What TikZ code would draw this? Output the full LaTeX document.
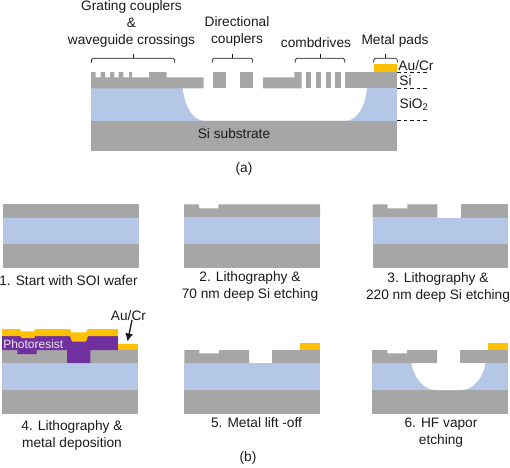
\documentclass[tikz,border=0pt]{standalone}
\usepackage{fontspec}
\setmainfont{Liberation Sans}
\usetikzlibrary{arrows.meta}
\definecolor{sigray}{HTML}{A6A6A6}
\definecolor{oxide}{HTML}{B4C7E7}
\definecolor{gold}{HTML}{FFC000}
\definecolor{resist}{HTML}{7030A0}
\definecolor{ink}{HTML}{1A1A1A}
\tikzset{
  silicon/.style={fill=sigray,draw=none},
  box/.style={fill=oxide,draw=none},
  metal/.style={fill=gold,draw=none},
  pr/.style={fill=resist,draw=none},
  cavity/.style={fill=white,draw=none},
  lab/.style={text=ink,font=\fontsize{13.7}{17}\selectfont,align=center,inner sep=0pt},
  bracket/.style={draw=ink,line width=0.7pt,rounded corners=1.5pt},
  tick/.style={draw=ink,line width=0.7pt},
  level/.style={draw=ink,line width=0.7pt,dash pattern=on 3.5pt off 3pt},
}
\begin{document}
\begin{tikzpicture}[x=1pt,y=-1pt]
\useasboundingbox (0,0) rectangle (510,467);
% ---- (a) ----
\fill[box] (91,88.3) rectangle (397.3,120.7);
\fill[silicon] (91,120.7) rectangle (397.3,150.7);
\fill[cavity] (182.7,88) .. controls (185,108) and (194,120.7) .. (204,120.7) -- (346,120.7) .. controls (356,120.7) and (365,108) .. (367,88) -- cycle;
\fill[silicon] (91,72) -- (95.7,72) -- (95.7,77.3) -- (100.7,77.3) -- (100.7,72) -- (105,72) -- (105,77.3) -- (110,77.3) -- (110,72) -- (114.3,72) -- (114.3,77.3) -- (118.7,77.3) -- (118.7,72) -- (123.3,72) -- (123.3,77.3) -- (129,77.3) -- (129,72) -- (132,72) -- (132,77.3) -- (149,77.3) -- (149,72) -- (166.7,72) -- (166.7,77.3) -- (203.7,77.3) -- (203.7,88.3) -- (91,88.3) -- cycle;
\fill[silicon] (213,72) rectangle (226.3,88.3);
\fill[silicon] (240.3,72) rectangle (253.3,88.3);
\fill[silicon] (263,77.3) -- (294.3,77.3) -- (294.3,72) -- (301.7,72) -- (301.7,88.3) -- (263,88.3) -- cycle;
\fill[silicon] (306.3,72) rectangle (311.3,88.3);
\fill[silicon] (316,72) rectangle (321,88.3);
\fill[silicon] (325.7,72) rectangle (330.7,88.3);
\fill[silicon] (335.3,72) rectangle (340.7,88.3);
\fill[silicon] (345.3,72) rectangle (397.3,88.3);
\fill[metal] (373.7,64) rectangle (397.3,72);
\draw[level] (397.3,72.6) -- (427,72.6);
\draw[level] (397.3,88.3) -- (427,88.3);
\draw[level] (397.3,120.7) -- (427,120.7);
% brackets
\draw[bracket] (91.5,62.7) -- (91.5,58.3) -- (174.7,58.3) -- (174.7,62.7);
\draw[tick] (133,58.3) -- (133,53.5);
\draw[bracket] (212.3,62.7) -- (212.3,58.3) -- (252.7,58.3) -- (252.7,62.7);
\draw[tick] (232.7,58.3) -- (232.7,53.5);
\draw[bracket] (295.3,62.7) -- (295.3,58.3) -- (344.7,58.3) -- (344.7,62.7);
\draw[tick] (320,58.3) -- (320,53.5);
\draw[bracket] (373.7,62.7) -- (373.7,58.3) -- (397.3,58.3) -- (397.3,62.7);
\draw[tick] (385.7,58.3) -- (385.7,53.5);
% labels
\node[lab] (grating) at (131.5,23.5) {Grating couplers\\\&\\waveguide crossings};
\node[lab] (dir) at (237,31.5) {Directional\\couplers};
\node[lab] (comb) at (316,43) {combdrives};
\node[lab] (pads) at (395,40.5) {Metal pads};
\node[lab] (aucr) at (416,66) {Au/Cr};
\node[lab] (si) at (405.5,81) {Si};
\node[lab] (sio) at (414,104.5) {SiO\textsubscript{2}};
\node[lab] (subst) at (234,134) {Si substrate};
\node[lab] (a) at (244,169) {(a)};
% ---- panel 1 ----
\fill[silicon] (2.7,204.3) rectangle (138.7,217.7);
\fill[box] (2.7,217.7) rectangle (138.7,244.3);
\fill[silicon] (2.7,244.3) rectangle (138.7,268.3);
\node[lab] (p1) at (68.5,281) {1. Start with SOI wafer};
% ---- panel 2 ----
\fill[silicon] (184,204.3) -- (199,204.3) -- (199,208.3) -- (218.3,208.3) -- (218.3,204.3) -- (320,204.3) -- (320,217.7) -- (184,217.7) -- cycle;
\fill[box] (184,217.7) rectangle (320,244.3);
\fill[silicon] (184,244.3) rectangle (320,268.3);
\node[lab] (p2) at (250,286.5) {2. Lithography \&\\70 nm deep Si etching};
% ---- panel 3 ----
\fill[silicon] (372.7,204.3) -- (387.7,204.3) -- (387.7,208.3) -- (407.3,208.3) -- (407.3,204.3) -- (437.3,204.3) -- (437.3,217.7) -- (372.7,217.7) -- cycle;
\fill[silicon] (460.7,204.3) rectangle (508.3,217.7);
\fill[box] (372.7,217.7) rectangle (508.3,244.3);
\fill[silicon] (372.7,244.3) rectangle (508.3,268.3);
\node[lab] (p3) at (438,287.5) {3. Lithography \&\\220 nm deep Si etching};
% ---- panel 4 ----
\fill[silicon] (2,350) rectangle (138.3,363);
\fill[box] (2,363) rectangle (138.3,390);
\fill[silicon] (2,390) rectangle (138.3,414);
\fill[pr] (2,336) -- (118,336) -- (118,350) -- (90.3,350) -- (90.3,363) -- (67,363) -- (67,350) -- (36.7,350) -- (36.7,354) -- (17.3,354) -- (17.3,350) -- (2,350) -- cycle;
\fill[metal] (2,329) -- (20,329) -- (21,331.3) -- (34,331.3) -- (35,329) -- (70,329) -- (71,332.3) -- (86,332.3) -- (87.7,329) -- (118,329) -- (118,336) -- (88,336) -- (86,341.6) -- (72,341.6) -- (70,336) -- (35,336) -- (34,338) -- (21.5,338) -- (20.5,336) -- (2,336) -- cycle;
\fill[metal] (118.3,343.7) rectangle (138.3,350);
\node[lab,text=white!88!resist,font=\fontsize{12}{14}\selectfont] (pht) at (33.3,343.7) {Photoresist};
\node[lab] (aucr4) at (128.5,316) {Au/Cr};
\coordinate (aucr4tip) at (127.5,341.5);
\draw[ink,line width=1.3pt,-{Latex[length=8pt,width=8pt]}] (132,320) -- (aucr4tip);
\node[lab] (p4) at (72,435.5) {4. Lithography \&\\metal deposition};
% ---- panel 5 ----
\fill[silicon] (184.3,350) -- (199.3,350) -- (199.3,353.3) -- (219,353.3) -- (219,350) -- (249,350) -- (249,363) -- (184.3,363) -- cycle;
\fill[silicon] (272.3,350) rectangle (320.3,363);
\fill[metal] (300,343.3) rectangle (320.3,350);
\fill[box] (184.3,363) rectangle (320.3,390);
\fill[silicon] (184.3,390) rectangle (320.3,414);
\node[lab] (p5) at (256.5,423) {5. Metal lift -off};
% ---- panel 6 ----
\fill[box] (372,363) rectangle (508.3,390);
\fill[silicon] (372,390) rectangle (508.3,414);
\fill[cavity] (411.3,362.7) .. controls (414,378) and (424,390) .. (436,390) -- (461,390) .. controls (473,390) and (483,378) .. (485.7,362.7) -- cycle;
\fill[silicon] (372,350) -- (387.3,350) -- (387.3,353.3) -- (407,353.3) -- (407,350) -- (437,350) -- (437,363) -- (372,363) -- cycle;
\fill[silicon] (460.3,350) rectangle (508.3,363);
\fill[metal] (488.3,343.3) rectangle (508.3,350);
\node[lab] (p6) at (441,432.5) {6. HF vapor\\etching};
\node[lab] (b) at (248,458) {(b)};
\end{tikzpicture}
\end{document}
